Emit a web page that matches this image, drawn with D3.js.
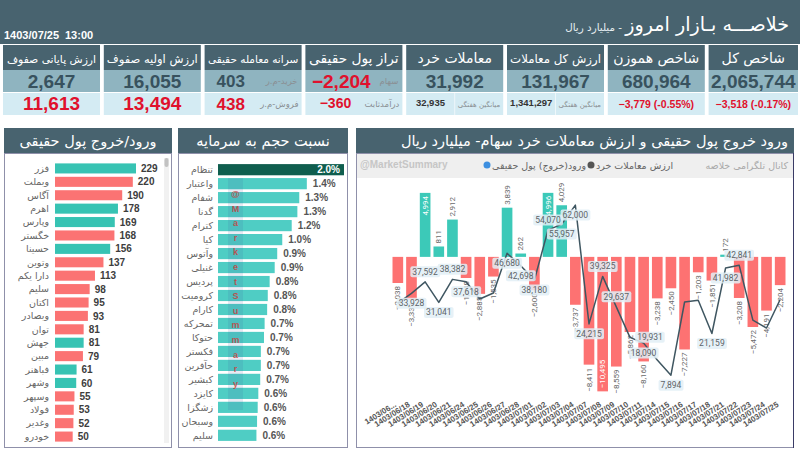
<!DOCTYPE html>
<html lang="fa">
<head>
<meta charset="utf-8">
<script src="https://cdn.jsdelivr.net/npm/d3@7/dist/d3.min.js"></script>
<style>
html,body{margin:0;padding:0;background:#fff;}
svg{display:block;}
</style>
</head>
<body>
<svg id="chart" width="800" height="454"></svg>
<script>
// ---------------- DATA ----------------
const reportDate = "1403/07/25";
const reportTime = "13:00";
const pageTitle = "خلاصـــه بـازار امروز";
const pageUnit = "- میلیارد ریال";

const kpiTitles = ["ارزش پایانی صفوف","ارزش اولیه صفوف","سرانه معامله حقیقی","تراز پول حقیقی","معاملات خرد","ارزش کل معاملات","شاخص هموزن","شاخص کل"];
const kpiValues = [2647,16055,403,-2204,31992,131967,680964,2065744];
const kpiSubValues = [11613,13494,438,-360,32935,1341297,-3779,-3518];
const kpiSubPercents = [null,null,null,null,null,null,-0.55,-0.17];
const kpiValueNotes = ["","","خرید-م.ر","سهام","","","",""];
const kpiSubNotes = ["","","فروش-م.ر","درآمدثابت","میانگین هفتگی","میانگین هفتگی","",""];

const flowTitle = "ورود/خروج پول حقیقی";
const flowSymbols = ["فزر","وبملت","آگاس","اهرم","وپارس","خگستر","حسینا","وتوین","دارا یکم","سلیم","اکتان","وبصادر","توان","جهش","مبین","فباهنر","وشهر","وسپهر","فولاد","وغدیر","خودرو"];
const flowValues = [229,-220,-190,178,169,-168,156,-137,-113,-98,-95,-93,-81,81,-79,61,60,-55,-53,-52,-50];

const ratioTitle = "نسبت حجم به سرمایه";
const ratioSymbols = ["تنظام","واعتبار","شفام","گدنا","کترام","کیا","وآتوس","غنیلی","پردیس","کرومیت","کارام","تمحرکه","حتوکا","فکستر","حآفرین","کبشیر","کایزد","زشگزا","وسبحان","سلیم"];
const ratioValues = [2.0,1.41,1.29,1.26,1.17,1.02,0.94,0.90,0.82,0.79,0.78,0.74,0.73,0.68,0.68,0.67,0.64,0.63,0.62,0.61];

const chartTitle = "ورود خروج پول حقیقی و ارزش معاملات خرد سهام- میلیارد ریال";
const legendFlow = "ورود(خروج) پول حقیقی";
const legendRetail = "ارزش معاملات خرد";
const channelNote = "کانال تلگرامی خلاصه";
const watermark = "@MarketSummary";

const dates = ["1403/06/17","1403/06/18","1403/06/19","1403/06/20","1403/06/21","1403/06/24","1403/06/25","1403/06/26","1403/06/27","1403/06/28","1403/07/01","1403/07/02","1403/07/03","1403/07/04","1403/07/07","1403/07/08","1403/07/09","1403/07/10","1403/07/11","1403/07/14","1403/07/15","1403/07/16","1403/07/17","1403/07/18","1403/07/21","1403/07/22","1403/07/23","1403/07/24","1403/07/25"];
const netFlow = [-2038,-3339,4994,811,2912,-1648,-2885,-1535,3839,262,-2600,4996,4029,-3737,-8411,-10495,-8559,-5862,-8160,-3238,-2450,-7227,-1203,-1851,172,-3208,-5472,-4191,-2204];
const retailValue = [30857,33928,37592,31041,38382,37618,32140,34050,46680,42698,38180,54070,55957,62000,24215,39325,29637,19931,18090,12700,7894,31180,31750,21159,41982,42841,25400,22900,31992];
// which retail points carry a visible label: a = above, b = below, r = right, n = none
const retailLabelSide = ["n","b","a","b","a","b","n","n","b","b","b","a","b","b","b","a","a","r","b","n","b","n","n","b","b","a","n","n","n"];

// ---------------- DRAWING ----------------
const svg = d3.select("#chart");
const fmt = d3.format(",");
const AR = "'DejaVu Sans', sans-serif";
const NUM = "'Liberation Sans', Arial, sans-serif";
const COL = {
  head: "#48636f", mid: "#8fb4c0", light: "#d4ebf3", dark: "#38525e", red: "#e0112d",
  teal: "#37c3b3", salmon: "#fb7373", ratio: "#4fcdc4", ratioTop: "#0f5e4e",
  border: "#8f90aa", cTeal: "#3cc9b8", cRed: "#fd7272", line: "#3f5661"
};

function fit(sel, maxW) {
  const n = sel.node();
  let fs = parseFloat(sel.attr("font-size"));
  while (n.getComputedTextLength() > maxW && fs > 6) { fs -= 0.25; sel.attr("font-size", fs); }
  return sel;
}

// Top header
svg.append("rect").attr("x",0).attr("y",0).attr("width",800).attr("height",44).attr("fill",COL.head);
const tt = svg.append("text").attr("x",789).attr("y",31).attr("direction","rtl")
  .attr("text-anchor","start").attr("fill","#fff").attr("font-family",AR);
const tBig = tt.append("tspan").attr("font-size",24).text(pageTitle);
const tSmall = tt.append("tspan").attr("font-size",13).attr("fill","#e6eef1").text(" " + pageUnit);
{
  const L = tt.node().getComputedTextLength();
  if (L > 224) { const k = 224 / L; tBig.attr("font-size", 24*k); tSmall.attr("font-size", 13*k); }
}
svg.append("text").attr("x",4).attr("y",39).attr("fill","#fff").attr("font-family",NUM)
  .attr("font-weight",700).attr("font-size",11).text(reportDate);
svg.append("text").attr("x",65).attr("y",39).attr("fill","#fff").attr("font-family",NUM)
  .attr("font-weight",700).attr("font-size",11).text(reportTime);

// KPI cards
kpiTitles.forEach((t, i) => {
  const x = 3 + i * 100.8, w = Math.min(97, 798 - x);
  const g = svg.append("g");
  g.append("rect").attr("x",x).attr("y",45).attr("width",w).attr("height",25).attr("fill",COL.head);
  g.append("rect").attr("x",x).attr("y",70).attr("width",w).attr("height",22).attr("fill",COL.mid);
  g.append("rect").attr("x",x).attr("y",93).attr("width",w).attr("height",22).attr("fill",COL.light);
  fit(g.append("text").attr("x",x+w/2).attr("y",63).attr("text-anchor","middle").attr("fill","#fff")
    .attr("font-family",AR).attr("font-size", i===3 ? 15 : 14).text(t), w-6);

  const hasNote = kpiValueNotes[i] !== "";
  const vx = hasNote ? (i===3 ? x + 0.37*w : x + 0.27*w) : x + w/2;
  const mainRed = kpiValues[i] < 0;
  g.append("text").attr("x",vx).attr("y", i===2 ? 87 : 88).attr("text-anchor","middle")
    .attr("fill", mainRed ? COL.red : COL.dark).attr("font-family",NUM).attr("font-weight",700)
    .attr("font-size", i===2 ? 17 : 19).text(fmt(kpiValues[i]));
  if (hasNote) {
    g.append("text").attr("x",x+w-4).attr("y",84).attr("direction","rtl").attr("text-anchor","start")
      .attr("fill","#8a8f93").attr("font-family",AR).attr("font-size",8.5).text(kpiValueNotes[i]);
  }
  // sub row
  const sv = kpiSubValues[i];
  if (i <= 2) {
    g.append("text").attr("x", i===2 ? vx : x+w/2).attr("y",110).attr("text-anchor","middle")
      .attr("fill",COL.red).attr("font-family",NUM).attr("font-weight",700)
      .attr("font-size", i===2 ? 17 : 19).text(fmt(sv));
  } else if (i === 3) {
    g.append("text").attr("x",x+0.31*w).attr("y",108).attr("text-anchor","middle")
      .attr("fill",COL.red).attr("font-family",NUM).attr("font-weight",700)
      .attr("font-size",14).text(fmt(sv));
  } else if (i <= 5) {
    g.append("line").attr("x1",x+w/2).attr("x2",x+w/2).attr("y1",93).attr("y2",115)
      .attr("stroke","#eef7fa").attr("stroke-width",1);
    fit(g.append("text").attr("x",x+w/4).attr("y",106).attr("text-anchor","middle")
      .attr("fill","#333").attr("font-family",NUM).attr("font-weight",700)
      .attr("font-size",9.5).text(fmt(sv)), w/2-3);
  } else {
    g.append("text").attr("x",x+w/2).attr("y",108).attr("text-anchor","middle")
      .attr("fill",COL.red).attr("font-family",NUM).attr("font-weight",700)
      .attr("font-size",10.5).text(fmt(sv) + " (" + kpiSubPercents[i].toFixed(2) + "%)");
  }
  if (kpiSubNotes[i] !== "") {
    fit(g.append("text").attr("x",x+w-3).attr("y",107).attr("direction","rtl").attr("text-anchor","start")
      .attr("fill","#8a8f93").attr("font-family",AR).attr("font-size",8.5).text(kpiSubNotes[i]),
      i >= 4 ? w/2-5 : w*0.4);
  }
});

// Panel helper
function panel(x, w, title, titleAnchor) {
  svg.append("rect").attr("x",x+0.5).attr("y",153.5).attr("width",w-1).attr("height",294)
    .attr("fill","#fff").attr("stroke",COL.border).attr("stroke-width",1);
  svg.append("rect").attr("x",x).attr("y",128).attr("width",w).attr("height",25).attr("fill",COL.head);
  const t = svg.append("text").attr("y",146).attr("fill","#fff").attr("font-family",AR).attr("font-size",14.5);
  if (titleAnchor === "middle") t.attr("x",x+w/2).attr("text-anchor","middle");
  else t.attr("x",x+w-6).attr("direction","rtl").attr("text-anchor","start");
  t.text(title);
  fit(t, w-14);
}

// ---- Panel 1: real money flow by symbol ----
panel(4, 168, flowTitle, "middle");
svg.append("rect").attr("x",164).attr("y",158).attr("width",5).attr("height",285).attr("fill","#f1f1f1");
svg.append("rect").attr("x",164.5).attr("y",158).attr("width",4).attr("height",9).attr("rx",2).attr("fill","#c2c2c2");
const yF = d3.scaleBand().domain(d3.range(flowSymbols.length)).range([163.4, 441.6]).paddingInner(0.25);
const xF = d3.scaleLinear().domain([0, d3.max(flowValues, v => Math.abs(v))]).range([55, 136]);
const gF = svg.append("g");
flowValues.forEach((v, i) => {
  const y = yF(i), h = yF.bandwidth();
  gF.append("rect").attr("x",xF(0)).attr("y",y).attr("width",xF(Math.abs(v))-xF(0)).attr("height",h)
    .attr("fill", v > 0 ? COL.teal : COL.salmon);
  gF.append("text").attr("x",49).attr("y",y+h/2).attr("dy","0.35em").attr("direction","rtl")
    .attr("text-anchor","start").attr("fill","#666").attr("font-family",AR).attr("font-size",9.5)
    .text(flowSymbols[i]);
  gF.append("text").attr("x",xF(Math.abs(v))+5).attr("y",y+h/2).attr("dy","0.36em")
    .attr("fill","#3d3d3d").attr("font-family",NUM).attr("font-weight",700).attr("font-size",10)
    .text(fmt(Math.abs(v)));
});

// ---- Panel 2: volume / market-cap ratio ----
panel(178, 170, ratioTitle, "middle");
const yR = d3.scaleBand().domain(d3.range(ratioSymbols.length)).range([164.1, 440.9]).paddingInner(0.2);
const xR = d3.scaleLinear().domain([0, d3.max(ratioValues)]).range([218, 344]);
const gR = svg.append("g");
ratioValues.forEach((v, i) => {
  const y = yR(i), h = yR.bandwidth();
  gR.append("rect").attr("x",xR(0)).attr("y",y).attr("width",xR(v)-xR(0)).attr("height",h)
    .attr("fill", i === 0 ? COL.ratioTop : COL.ratio);
  gR.append("text").attr("x",213).attr("y",y+h/2).attr("dy","0.35em").attr("direction","rtl")
    .attr("text-anchor","start").attr("fill","#666").attr("font-family",AR).attr("font-size",9.5)
    .text(ratioSymbols[i]);
  const inside = i === 0;
  gR.append("text").attr("x", inside ? xR(v)-4 : xR(v)+6).attr("y",y+h/2).attr("dy","0.36em")
    .attr("text-anchor", inside ? "end" : "start")
    .attr("fill", inside ? "#fff" : "#555").attr("font-family",NUM).attr("font-weight",700).attr("font-size",10)
    .text(v.toFixed(1) + "%");
});
// watermark strip
svg.append("rect").attr("x",228).attr("y",178).attr("width",15).attr("height",232)
  .attr("fill","rgba(70,90,160,0.13)");
watermark.split("").forEach((ch, i) => {
  svg.append("text").attr("x",235.5).attr("y",197 + i*14.6).attr("text-anchor","middle")
    .attr("fill","#c8403c").attr("fill-opacity",0.85).attr("font-family",NUM).attr("font-weight",700)
    .attr("font-size",9).text(ch);
});

// ---- Panel 3: combo chart ----
panel(356, 438, chartTitle, "end");
svg.append("rect").attr("x",357).attr("y",154).attr("width",436).attr("height",24).attr("fill","#efefef");
svg.append("text").attr("x",360).attr("y",168).attr("fill","#c6c6c6").attr("font-family",NUM)
  .attr("font-weight",700).attr("font-size",10).text(watermark);
svg.append("circle").attr("cx",487).attr("cy",165).attr("r",3.5).attr("fill","#3d8fe0");
svg.append("text").attr("x",492).attr("y",168.5).attr("direction","rtl").attr("text-anchor","end")
  .attr("fill","#666").attr("font-family",AR).attr("font-size",9.5).text(legendFlow);
svg.append("circle").attr("cx",591).attr("cy",165).attr("r",3.5).attr("fill","#555");
svg.append("text").attr("x",596).attr("y",168.5).attr("direction","rtl").attr("text-anchor","end")
  .attr("fill","#666").attr("font-family",AR).attr("font-size",9.5).text(legendRetail);
svg.append("text").attr("x",788).attr("y",168.5).attr("direction","rtl").attr("text-anchor","start")
  .attr("fill","#a9a9a9").attr("font-family",AR).attr("font-size",9.5).text(channelNote);

const x = d3.scaleBand().domain(dates).range([391, 787]).paddingInner(0.22).paddingOuter(0.11);
const yB = d3.scaleLinear().domain([-11170, 6000]).range([400, 180]);
const yL = d3.scaleLinear().domain([0, 70000]).range([400, 180]);
const cx = d => x(d) + x.bandwidth()/2;

const gBars = svg.append("g");
netFlow.forEach((v, i) => {
  const d = dates[i];
  const y0 = yB(0), y1 = yB(v);
  gBars.append("rect").attr("x",x(d)).attr("width",x.bandwidth())
    .attr("y",Math.min(y0,y1)).attr("height",Math.abs(y1-y0))
    .attr("fill", v >= 0 ? COL.cTeal : COL.cRed);
});
const gBarLab = svg.append("g");
netFlow.forEach((v, i) => {
  const d = dates[i];
  const y1 = yB(v);
  const t = gBarLab.append("text").attr("font-family","Roboto, sans-serif").attr("font-size",8)
    .attr("fill","#6a6a6a").text(fmt(v));
  const L = t.node().getComputedTextLength();
  let ay, anchor, inside = false;
  if (v >= 0) {
    if (y1 - 3 - L < 181) { inside = true; ay = y1 + 3; anchor = "end"; }
    else { ay = y1 - 3; anchor = "start"; }
  } else {
    if (y1 + 3 + L > 399) { inside = true; ay = y1 - 3; anchor = "start"; }
    else { ay = y1 + 3; anchor = "end"; }
  }
  t.attr("text-anchor",anchor).attr("dy","0.33em")
    .attr("transform",`translate(${cx(d)},${ay}) rotate(-90)`)
    .attr("fill", inside ? "#fff" : "#6a6a6a");
});

const line = d3.line().x((v,i) => cx(dates[i])).y(v => yL(v));
svg.append("path").datum(retailValue).attr("d",line).attr("fill","none")
  .attr("stroke",COL.line).attr("stroke-width",1.5).attr("stroke-linejoin","round");

const gLab = svg.append("g");
retailValue.forEach((v, i) => {
  const side = retailLabelSide[i];
  if (side === "n") return;
  let lx = cx(dates[i]), ly = yL(v);
  if (side === "a") ly -= 10; else if (side === "b") ly += 10; else lx += 20;
  const t = gLab.append("text").attr("x",lx).attr("y",ly).attr("dy","0.35em").attr("text-anchor","middle")
    .attr("font-family","Roboto, sans-serif").attr("font-size",8.5).attr("fill","#5d6468").text(fmt(v));
  const bb = t.node().getBBox();
  gLab.insert("rect", () => t.node()).attr("x",bb.x-2).attr("y",bb.y-0.5).attr("width",bb.width+4)
    .attr("height",bb.height+1).attr("rx",2).attr("fill","rgba(226,238,246,0.85)");
});

// x-axis tick labels
const gX = svg.append("g");
dates.forEach(d => {
  const ex = cx(d) - 1, ey = 406;
  const t = gX.append("text").attr("text-anchor","end").attr("font-family",NUM).attr("font-weight",700)
    .attr("font-size",8).attr("fill","#555").attr("transform",`translate(${ex},${ey}) rotate(-32)`).text(d);
  const cos = Math.cos(32*Math.PI/180);
  let s = d;
  while (ex - t.node().getComputedTextLength()*cos < 365 && s.length > 3) {
    s = s.slice(0, -1);
    t.text(s.replace(/\/$/, "") + "...");
    if (ex - t.node().getComputedTextLength()*cos >= 365) break;
  }
});
// darker right edge of the chart frame
svg.append("line").attr("x1",793.5).attr("x2",793.5).attr("y1",153).attr("y2",448).attr("stroke","#3a3b66").attr("stroke-width",1);
</script>
</body>
</html>
